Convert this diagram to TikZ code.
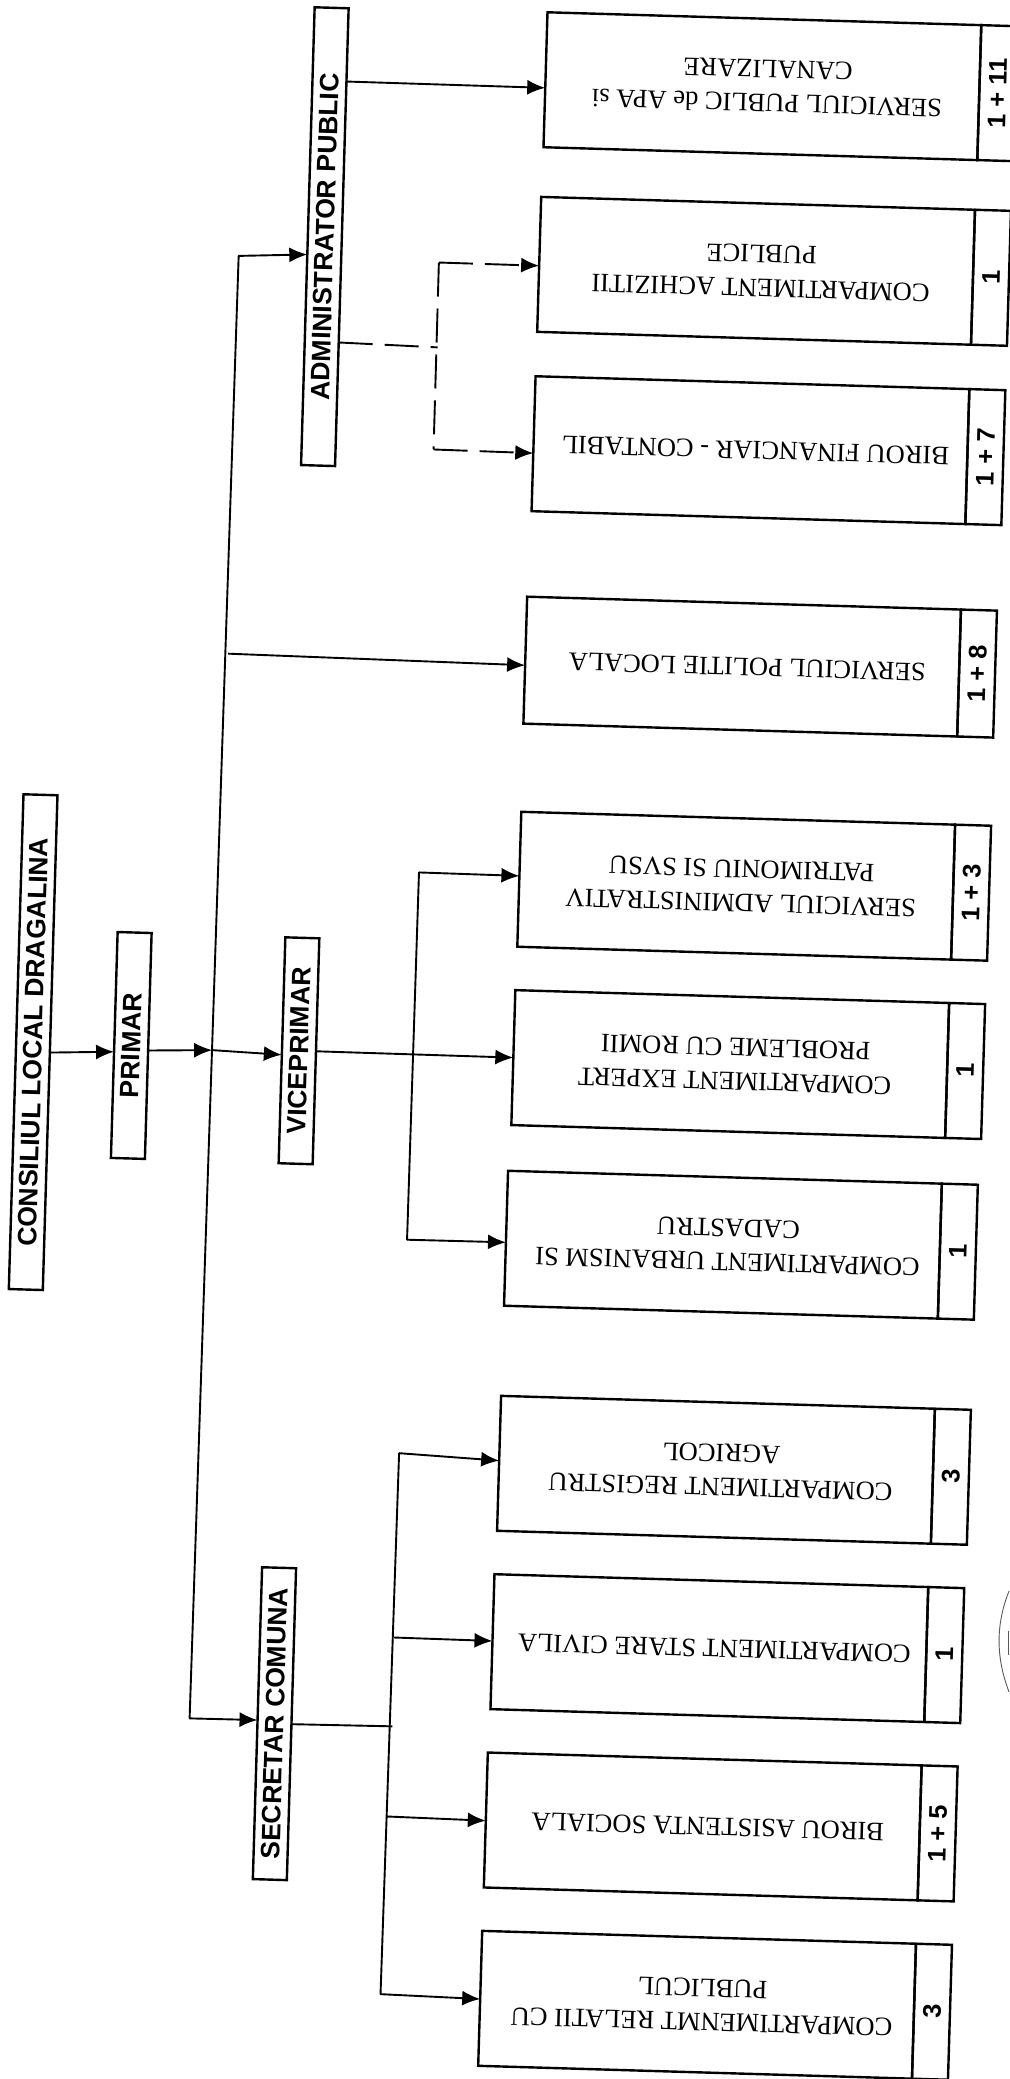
\documentclass[tikz,border=0pt]{standalone}
\usepackage{fontspec}
\setmainfont{Liberation Serif}
\newfontfamily\hdfont{Liberation Sans}[BoldFont={Liberation Sans Bold}]
\usetikzlibrary{arrows.meta,calc}
\tikzset{
  x=1.32589pt,y=-1.32589pt,
  unitbox/.style={draw=black,line width=2.4pt,fill=white,rotate=-1.7,inner sep=0pt,outer sep=0pt,minimum width=434pt,minimum height=135pt,align=center,font=\fontsize{26.5}{34}\selectfont},
  numbox/.style={draw=black,line width=2.4pt,rotate=-1.7,inner sep=0pt,outer sep=0pt,minimum width=36pt,minimum height=135pt,anchor=west,font=\hdfont\bfseries\fontsize{25.5}{28}\selectfont},
  headbox/.style={draw=black,line width=2.4pt,fill=white,rotate=-1.7,inner sep=0pt,outer sep=0pt,minimum width=34pt,font=\hdfont\bfseries\fontsize{26.6}{30}\selectfont},
  link/.style={line width=1.9pt,-{Latex[length=18pt,width=15pt]}},
  plain/.style={line width=1.9pt},
  dashlink/.style={line width=1.9pt,dash pattern=on 34pt off 12pt,-{Latex[length=18pt,width=15pt]}},
  dashplain/.style={line width=1.9pt,dash pattern=on 34pt off 12pt},
  stamp/.style={line width=.9pt,draw=black!65}
}
\newcommand{\unit}[5][135pt]{%
  \node[unitbox,minimum height=#1] (#2) at (#3) {\hspace*{10pt}\rotatebox[origin=c]{180}{\parbox{420pt}{\centering #4}}};
  \node[numbox,minimum height=#1] (#2n) at (#2.east) {\rotatebox[origin=c]{90}{#5}};
}
\newcommand{\head}[4]{%
  \node[headbox,minimum height=#3] (#1) at (#2) {\rotatebox[origin=c]{90}{#4}};
}
\begin{document}
\begin{tikzpicture}
\useasboundingbox (0,0) rectangle (761,1568);
\fill[white] (0,0) rectangle (761,1568);
% head boxes
\head{cons}{25,786}{495pt}{CONSILIUL LOCAL DRAGALINA}
\head{prim}{99,788.5}{226pt}{PRIMAR}
\head{vice}{225.5,792.5}{226pt}{VICEPRIMAR}
\head{secr}{207,1300}{312pt}{SECRETAR COMUNA}
\head{admn}{245,178.5}{458pt}{ADMINISTRATOR PUBLIC}
% unit boxes
\unit{sa}{575,65}{SERVICIUL PUBLIC de APA si\\CANALIZARE}{1 + 11}
\unit{sb}{570.25,204.25}{COMPARTIMENT ACHIZITII\\PUBLICE}{1}
\unit{sc}{566,339.5}{BIROU FINANCIAR - CONTABIL}{1 + 7}
\unit[127pt]{sd}{559.75,502.75}{SERVICIUL POLITIE LOCALA}{1 + 8}
\unit{se}{555.25,668}{SERVICIUL ADMINISTRATIV\\PATRIMONIU SI SVSU}{1 + 3}
\unit{sf}{550.75,802.5}{COMPARTIMENT EXPERT\\PROBLEME CU ROMII}{1}
\unit{sg}{545.25,938.75}{COMPARTIMENT URBANISM SI\\CADASTRU}{1}
\unit{sh}{540,1108.5}{COMPARTIMENT REGISTRU\\AGRICOL}{3}
\unit{si}{535,1243}{COMPARTIMENT STARE CIVILA}{1}
\unit{sj}{530,1377.5}{BIROU ASISTENTA SOCIALA}{1 + 5}
\unit{sk}{525.75,1512}{COMPARTIMENMT RELATII CU\\PUBLICUL}{3}
% junctions
\coordinate (trTop) at (180,193);
\coordinate (trBot) at (143,1296);
\coordinate (trPol) at (172,493);
\coordinate (trMid) at (160,792);
\coordinate (viTop) at (316,658);
\coordinate (viBot) at (307,935);
\coordinate (daMid) at (330,262);
\coordinate (daTop) at (331,198);
\coordinate (daBot) at (327,339);
\coordinate (seTop) at (301,1096);
\coordinate (seBot) at (287,1504);
\coordinate (seMid) at (296,1302);
\coordinate (seB) at (297,1235);
\coordinate (seC) at (292,1370);
% trunk
\draw[plain,line cap=round] (trTop) -- (trBot);
\draw[link] (trTop) -- ($(admn.north west)!.54!(admn.south west)$);
\draw[link] (trBot) -- ($(secr.north west)!.49!(secr.south west)$);
\draw[link] (trPol) -- ($(sd.north west)!.54!(sd.south west)$);
\draw[link] ($(cons.north east)!.52!(cons.south east)$) -- ($(prim.north west)!.53!(prim.south west)$);
\draw[link] ($(prim.north east)!.52!(prim.south east)$) -- (trMid);
\draw[link] (trMid) -- ($(vice.north west)!.52!(vice.south west)$);
% viceprimar
\draw[link] ($(vice.north east)!.5!(vice.south east)$) -- ($(sf.north west)!.5!(sf.south west)$);
\draw[plain,line cap=round] (viTop) -- (viBot);
\draw[link] (viTop) -- ($(se.north west)!.475!(se.south west)$);
\draw[link] (viBot) -- ($(sg.north west)!.53!(sg.south west)$);
% administrator
\draw[link] ($(admn.north east)!.16!(admn.south east)$) -- ($(sa.north west)!.56!(sa.south west)$);
\draw[dashplain] ($(admn.north east)!.73!(admn.south east)$) -- (daMid);
\draw[dashplain] (daTop) -- (daBot);
\draw[dashlink] (daTop) -- ($(sb.north west)!.51!(sb.south west)$);
\draw[dashlink] (daBot) -- ($(sc.north west)!.57!(sc.south west)$);
% secretar
\draw[plain] ($(secr.north east)!.5!(secr.south east)$) -- (seMid);
\draw[plain,line cap=round] (seTop) -- (seBot);
\draw[link] (seTop) -- ($(sh.north west)!.48!(sh.south west)$);
\draw[link] (seB) -- ($(si.north west)!.495!(si.south west)$);
\draw[link] (seC) -- ($(sj.north west)!.505!(sj.south west)$);
\draw[link] (seBot) -- ($(sk.north west)!.505!(sk.south west)$);
% stamp edge
\draw[stamp] (761,1200) .. controls (751,1225) and (751,1250) .. (761,1276);
\draw[stamp] (760.5,1230) -- (760.5,1248);
\end{tikzpicture}
\end{document}
